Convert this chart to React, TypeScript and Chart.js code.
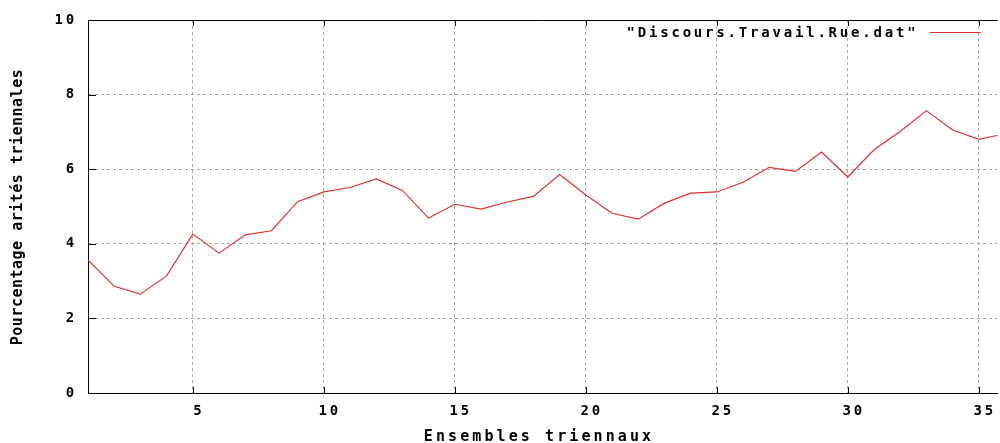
import { useEffect, useRef } from 'react';
import { Chart, registerables } from 'chart.js';

Chart.register(...registerables);

const X_VALUES = [1, 2, 3, 4, 5, 6, 7, 8, 9, 10, 11, 12, 13, 14, 15, 16, 17, 18, 19, 20, 21, 22, 23, 24, 25, 26, 27, 28, 29, 30, 31, 32, 33, 34, 35, 36];
const SERIES_LABEL = '"Discours.Travail.Rue.dat"';
const SERIES_VALUES = [3.57, 2.86, 2.65, 3.14, 4.26, 3.75, 4.24, 4.35, 5.13, 5.39, 5.51, 5.74, 5.43, 4.69, 5.06, 4.93, 5.12, 5.27, 5.86, 5.31, 4.82, 4.66, 5.09, 5.36, 5.39, 5.65, 6.05, 5.94, 6.46, 5.79, 6.52, 7.01, 7.57, 7.05, 6.8, 6.95];
const X_TICKS = [5, 10, 15, 20, 25, 30, 35];
const Y_TICKS = [0, 2, 4, 6, 8, 10];
const X_MIN = 1;
const X_MAX = 35.72;
const Y_MIN = 0;
const Y_MAX = 10;
const X_TITLE = 'Ensembles triennaux';
const Y_TITLE = 'Pourcentage arités triennales';

const LINE_COLOR = '#e03030';
const GRID_COLOR = '#a8a8a8';
const FONT_FAMILY = "'DejaVu Sans Mono', 'Liberation Mono', monospace";
const TICK_SPACING = '2.8px';

const spacingPlugin = {
  id: 'spacing',
  beforeUpdate(chart: any) {
    chart.ctx.letterSpacing = TICK_SPACING;
  },
  beforeDraw(chart: any) {
    chart.ctx.letterSpacing = TICK_SPACING;
  },
};

const decorPlugin = {
  id: 'decor',
  afterDraw(chart: any) {
    const { ctx, chartArea } = chart;
    const xs = chart.scales.x;
    const ys = chart.scales.y;
    const { left, right, top, bottom } = chartArea;
    ctx.save();
    // top border
    ctx.strokeStyle = '#000';
    ctx.lineWidth = 1;
    ctx.setLineDash([]);
    ctx.beginPath();
    ctx.moveTo(left, Math.round(top) + 0.5);
    ctx.lineTo(right, Math.round(top) + 0.5);
    ctx.stroke();
    // inward tick marks
    ctx.beginPath();
    X_TICKS.forEach((v) => {
      const px = Math.round(xs.getPixelForValue(v)) + 0.5;
      ctx.moveTo(px, bottom);
      ctx.lineTo(px, bottom - 6);
      ctx.moveTo(px, top);
      ctx.lineTo(px, top + 6);
    });
    Y_TICKS.forEach((v) => {
      const py = Math.round(ys.getPixelForValue(v)) + 0.5;
      ctx.moveTo(left, py);
      ctx.lineTo(left + 8, py);
    });
    ctx.stroke();

    // legend
    const label = chart.data.datasets[0].label;
    ctx.fillStyle = '#000';
    ctx.font = `bold 14px ${FONT_FAMILY}`;
    (ctx as any).letterSpacing = TICK_SPACING;
    ctx.textAlign = 'right';
    ctx.textBaseline = 'middle';
    ctx.fillText(label, right - 82 + 2.8, top + 13);
    ctx.strokeStyle = LINE_COLOR;
    ctx.lineWidth = 1.2;
    ctx.beginPath();
    ctx.moveTo(right - 68, top + 12.5);
    ctx.lineTo(right - 17, top + 12.5);
    ctx.stroke();

    // x title
    ctx.fillStyle = '#000';
    ctx.font = `bold 15px ${FONT_FAMILY}`;
    (ctx as any).letterSpacing = '3.1px';
    ctx.textAlign = 'center';
    ctx.textBaseline = 'alphabetic';
    ctx.fillText(X_TITLE, 539, 441);

    // y title
    ctx.font = `bold 15px ${FONT_FAMILY}`;
    (ctx as any).letterSpacing = '0.5px';
    ctx.translate(22, 207);
    ctx.rotate(-Math.PI / 2);
    ctx.textAlign = 'center';
    ctx.textBaseline = 'alphabetic';
    ctx.fillText(Y_TITLE, 0, 0);
    ctx.restore();
  },
};

export default function App() {
  const ref = useRef<HTMLCanvasElement | null>(null);

  useEffect(() => {
    document.body.style.margin = '0';
    const canvas = ref.current;
    if (!canvas) return;
    const tickFont = { family: FONT_FAMILY, size: 14, weight: 'bold' as const };
    const chart = new Chart(canvas, {
      type: 'line',
      data: {
        datasets: [
          {
            label: SERIES_LABEL,
            data: X_VALUES.map((x, i) => ({ x, y: SERIES_VALUES[i] })),
            borderColor: LINE_COLOR,
            backgroundColor: LINE_COLOR,
            borderWidth: 1.2,
            pointRadius: 0,
            tension: 0,
            fill: false,
          },
        ],
      },
      options: {
        animation: false,
        responsive: false,
        devicePixelRatio: 1,
        layout: { padding: { top: 20, right: 0, bottom: 0, left: 0 } },
        plugins: {
          legend: { display: false },
          tooltip: { enabled: false },
        },
        scales: {
          x: {
            type: 'linear',
            min: X_MIN,
            max: X_MAX,
            afterBuildTicks: (scale: any) => {
              scale.ticks = X_TICKS.map((v) => ({ value: v }));
            },
            afterFit: (scale: any) => {
              scale.height = 50;
            },
            grid: {
              color: GRID_COLOR,
              lineWidth: 1,
              drawTicks: false,
            },
            border: { display: true, color: '#000', width: 1, dash: [3, 3] },
            ticks: {
              font: tickFont,
              color: '#000',
              padding: 10,
              labelOffset: 6,
              maxRotation: 0,
              autoSkip: false,
              callback: (v: any) => String(v),
            },
          },
          y: {
            type: 'linear',
            min: Y_MIN,
            max: Y_MAX,
            afterBuildTicks: (scale: any) => {
              scale.ticks = Y_TICKS.map((v) => ({ value: v }));
            },
            afterFit: (scale: any) => {
              scale.width = 88;
            },
            grid: {
              color: GRID_COLOR,
              lineWidth: 1,
              drawTicks: false,
            },
            border: { display: true, color: '#000', width: 1, dash: [3, 3] },
            ticks: {
              font: tickFont,
              color: '#000',
              padding: 11,
              autoSkip: false,
              callback: (v: any) => String(v),
            },
          },
        },
      },
      plugins: [spacingPlugin, decorPlugin],
    });
    return () => chart.destroy();
  }, []);

  return (
    <div style={{ width: 1000, height: 443 }}>
      <canvas ref={ref} width={1000} height={443} style={{ display: 'block' }} />
    </div>
  );
}
